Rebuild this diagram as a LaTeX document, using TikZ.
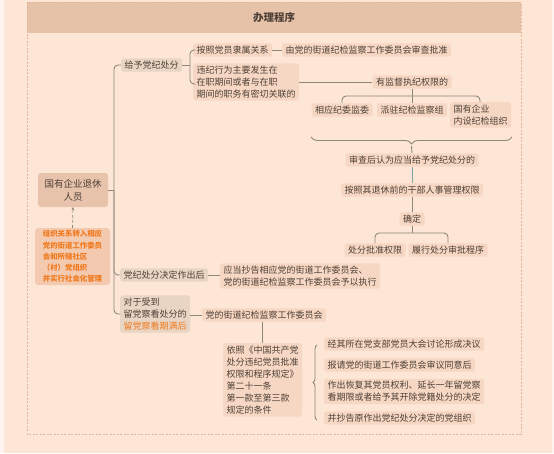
\documentclass[tikz,border=0pt]{standalone}
\usepackage{fontspec}
\setmainfont{Noto Sans CJK SC}
\usetikzlibrary{decorations.pathreplacing,arrows.meta}
\definecolor{bgc}{HTML}{FDE6D6}
\definecolor{outc}{HTML}{FEF3EE}
\definecolor{headc}{HTML}{E6C2A9}
\definecolor{framec}{HTML}{E3B59A}
\definecolor{leafc}{HTML}{F6D7C3}
\definecolor{lvlc}{HTML}{E9D5C4}
\definecolor{rootc}{HTML}{E7C3AB}
\definecolor{orgfill}{HTML}{F3CAB0}
\definecolor{orangec}{HTML}{F07A1E}
\definecolor{txt}{HTML}{4E4036}
\definecolor{linec}{HTML}{8E887A}
\definecolor{bluec}{HTML}{82A3A8}
\begin{document}
\begin{tikzpicture}[x=1pt,y=-1pt,
  font=\fontsize{9}{12}\selectfont,
  leaf/.style={fill=leafc, rounded corners=2.5pt, inner xsep=3.5pt, inner ysep=2.5pt, text=txt, align=left},
  lvl/.style={leaf, fill=lvlc},
  conn/.style={draw=linec, line width=0.9pt, rounded corners=4pt},
  bracestyle/.style={draw=linec, line width=0.9pt, decorate}]
% background
\fill[outc] (0,0) rectangle (554,453);
\fill[bgc] (4,0) rectangle (552,453);
\fill[headc] (27,2) rectangle (521,33);
\draw[framec, dashed, line width=0.6pt, dash pattern=on 2pt off 1.5pt] (27,2) rectangle (521,434);
\node[text=txt, font=\fontsize{10.5}{12}\selectfont\bfseries] (title) at (274,18) {办理程序};
\useasboundingbox (0,0) rectangle (554,453);

% top branch
\node[lvl, anchor=west] (give) at (121,65) {给予党纪处分};
\node[leaf, anchor=west] (an) at (193,50) {按照党员隶属关系};
\node[leaf, anchor=west] (you) at (282,50) {由党的街道纪检监察工作委员会审查批准};
\node[leaf, anchor=west] (wj) at (193,82) {违纪行为主要发生在\\在职期间或者与在职\\期间的职务有密切关联的};
\node[leaf] (jd) at (412,82) {有监督执纪权限的};
\node[leaf] (c1) at (342,110) {相应纪委监委};
\node[leaf] (c2) at (412,110) {派驻纪检监察组};
\node[leaf, anchor=north west] (c3) at (450,102) {国有企业\\内设纪检组织};
\node[leaf] (sc) at (412,160) {审查后认为应当给予党纪处分的};
\node[leaf] (pr) at (412,190) {按照其退休前的干部人事管理权限};
\node[leaf] (qd) at (412,219) {确定};
\node[leaf] (p1) at (375,250) {处分批准权限};
\node[leaf] (p2) at (448,250) {履行处分审批程序};

% root
\node[fill=rootc, rounded corners=3pt, text=txt, align=center, minimum width=70pt, minimum height=34pt, inner sep=2pt, font=\fontsize{9.5}{13}\selectfont] (root) at (73,190) {国有企业退休\\人员};
\node[fill=orgfill, rounded corners=3pt, text=orangec, align=left, minimum width=75pt, minimum height=57pt, inner sep=2pt, font=\fontsize{7.4}{11.3}\selectfont\bfseries] (org) at (72.5,256.5) {组织关系转入相应\\党的街道工作委员\\会和所辖社区\\（村）党组织\\并实行社会化管理};

% middle and bottom branches
\node[lvl, anchor=west] (decide) at (120,275) {党纪处分决定作出后};
\node[leaf, anchor=west] (ex) at (220,276) {应当抄告相应党的街道工作委员会、\\党的街道纪检监察工作委员会予以执行};
\node[lvl, anchor=west] (dui) at (120,314) {对于受到\\留党察看处分的\\\textcolor{orangec}{留党察看期满后}};
\node[leaf, anchor=west] (jw) at (202,315) {党的街道纪检监察工作委员会};
\node[leaf, anchor=north west] (yz) at (223,343) {依照《中国共产党\\处分违纪党员批准\\权限和程序规定》\\第二十一条\\第一款至第三款\\规定的条件};
\node[leaf, anchor=west] (r1) at (324,344) {经其所在党支部党员大会讨论形成决议};
\node[leaf, anchor=west] (r2) at (324,365) {报请党的街道工作委员会审议同意后};
\node[leaf, anchor=west] (r3) at (324,391.5) {作出恢复其党员权利、延长一年留党察\\看期限或者给予其开除党籍处分的决定};
\node[leaf, anchor=west] (r4) at (324,418) {并抄告原作出党纪处分决定的党组织};

% coordinates
\coordinate (tk) at (114,190);
\coordinate (b1) at (190,65);
\coordinate (b2) at (412,96);
\coordinate (b3) at (412,233);
\coordinate (btip) at (411.5,146);

% connectors
\draw[conn] (root.east) -- (tk);
\draw[conn] (give.west) -| (tk) |- (dui.west);
\draw[conn] (tk) |- (decide.west);
\draw[conn] (give.east) -- (b1);
\draw[conn] (an.west) -| (b1) |- ([yshift=-2pt]wj.west);
\draw[conn] (an.east) -- (you.west);
\draw[conn] (wj.east) -- (jd.west);
\draw[conn] (jd.south) -- (c2.north);
\draw[conn] (c1.north) |- (b2) -| (480,102);
\draw[bracestyle, decoration={brace, amplitude=7pt, aspect=0.5}] (512,137) -- (311,137);
\draw[conn] (btip) -- (sc.north);
\draw[conn, draw=bluec] (sc.south) -- (pr.north);
\draw[conn] (pr.south) -- (qd.north);
\draw[conn] (qd.south) -- (b3);
\draw[conn] (p1.north) |- (b3) -| (p2.north);
\draw[conn] (decide.east) -- (ex.west |- decide.east);
\draw[conn] (dui.east |- jw.west) -- (jw.west);
\draw[conn] (jw.south -| yz.north) -- (yz.north);
\draw[bracestyle, decoration={brace, amplitude=4pt, aspect=0.5}] (317,420) -- (317,345);
\draw[densely dashed, draw=linec, line width=0.7pt, -{Stealth[length=3pt,width=3pt]}] (org.north) -- (root.south);
\end{tikzpicture}
\end{document}
